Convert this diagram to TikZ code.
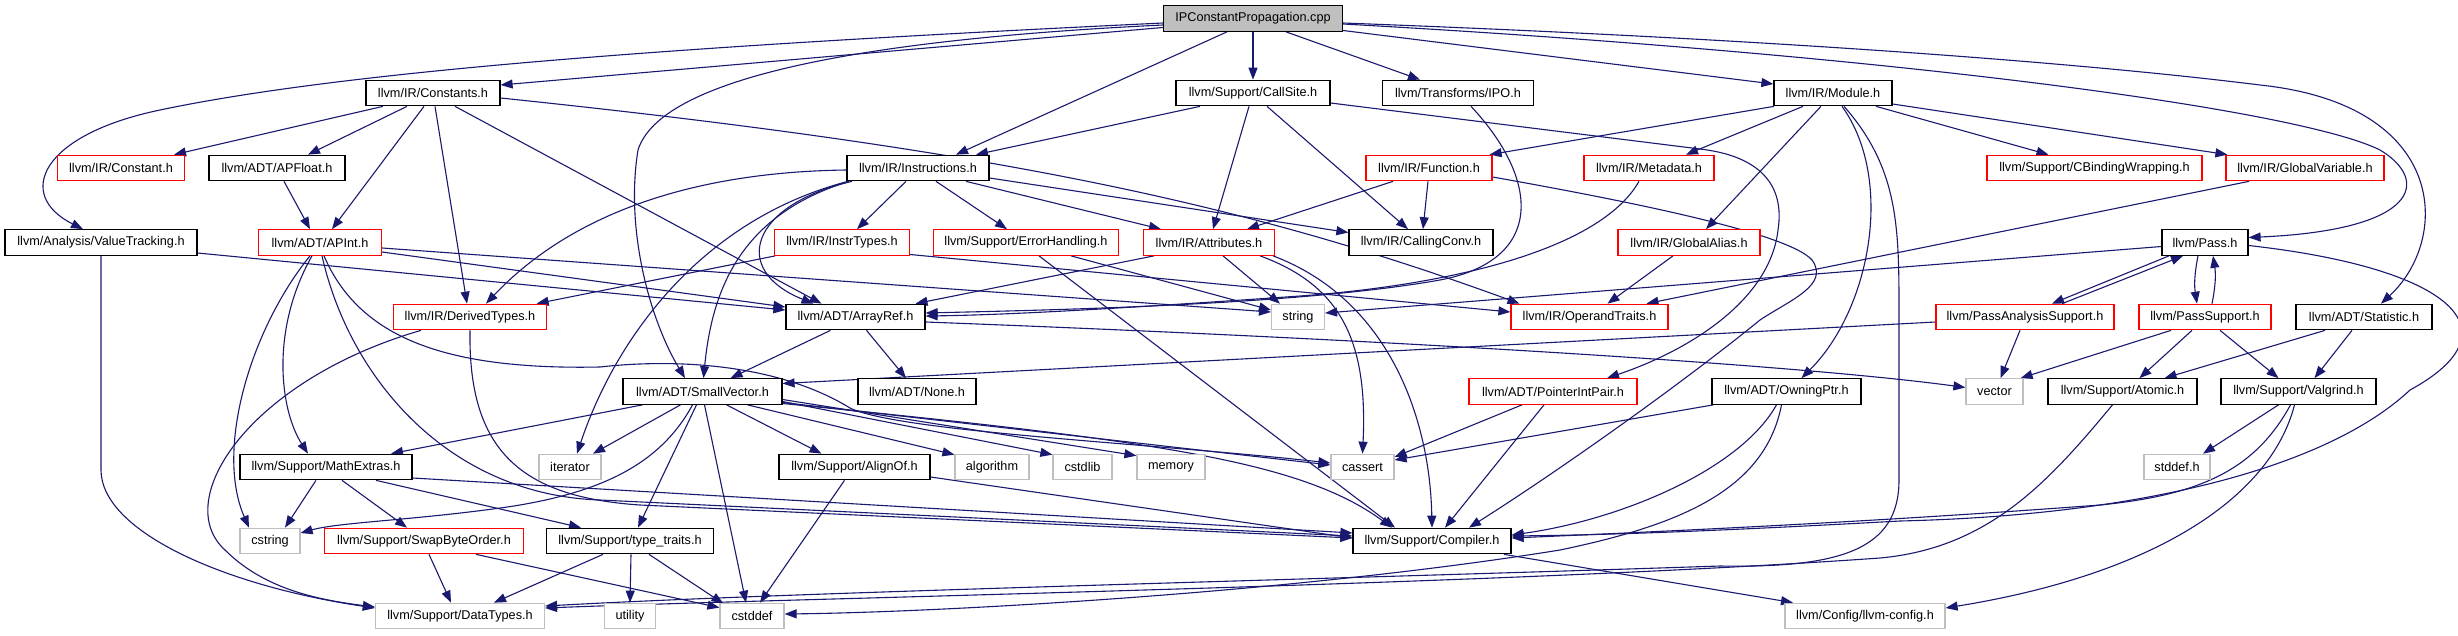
\documentclass[tikz,border=0pt]{standalone}
\usepackage{fontspec}
\setmainfont{Liberation Sans}
\usetikzlibrary{arrows.meta}
\definecolor{edgec}{HTML}{191970}
\definecolor{greyb}{HTML}{BFBFBF}
\definecolor{redb}{HTML}{FF0000}
\pgfdeclarelayer{bg}
\pgfdeclarelayer{edges}
\pgfsetlayers{bg,edges,main}
\begin{document}
\begin{tikzpicture}[x=1pt,y=-1pt,
  box/.style={draw=black, line width=1.2pt, fill=white, minimum height=25.5pt, inner sep=0pt, font=\fontsize{12.7pt}{15pt}\selectfont, text=black},
  nb/.style={box},
  nr/.style={box, draw=redb},
  ng/.style={box, draw=greyb},
  root/.style={box, fill=greyb},
  dep/.style={draw=edgec, line width=1.1pt, -{Triangle[length=12pt,width=9pt]}}
]
\begin{pgfonlayer}{bg}
\fill[white] (0,0) rectangle (2458,635);
\end{pgfonlayer}
\useasboundingbox (0,0) rectangle (2458,635);

% nodes
\node[root, minimum width=179pt] (ipcp) at (1253,18.5) {IPConstantPropagation.cpp};
\node[nb, minimum width=134pt] (constants) at (433,93) {llvm/IR/Constants.h};
\node[nb, minimum width=154pt] (callsite) at (1253,93) {llvm/Support/CallSite.h};
\node[nb, minimum width=151pt] (ipo) at (1458,93) {llvm/Transforms/IPO.h};
\node[nb, minimum width=118pt] (module) at (1833,93) {llvm/IR/Module.h};
\node[nr, minimum width=127pt] (constant) at (121,168) {llvm/IR/Constant.h};
\node[nb, minimum width=136pt] (apfloat) at (277,168) {llvm/ADT/APFloat.h};
\node[nb, minimum width=142pt] (instr) at (918,168) {llvm/IR/Instructions.h};
\node[nr, minimum width=126pt] (function) at (1429,168) {llvm/IR/Function.h};
\node[nr, minimum width=130pt] (metadata) at (1649,168) {llvm/IR/Metadata.h};
\node[nr, minimum width=215pt] (cbind) at (2094.5,168) {llvm/Support/CBindingWrapping.h};
\node[nr, minimum width=158pt] (globalvar) at (2305,168) {llvm/IR/GlobalVariable.h};
\node[nb, minimum width=192pt] (vt) at (101,242.5) {llvm/Analysis/ValueTracking.h};
\node[nr, minimum width=123pt] (apint) at (320,242.5) {llvm/ADT/APInt.h};
\node[nr, minimum width=135pt] (instrtypes) at (842,242.5) {llvm/IR/InstrTypes.h};
\node[nr, minimum width=185pt] (errh) at (1026,242.5) {llvm/Support/ErrorHandling.h};
\node[nr, minimum width=131pt] (attr) at (1209,242.5) {llvm/IR/Attributes.h};
\node[nb, minimum width=144pt] (callconv) at (1421,242.5) {llvm/IR/CallingConv.h};
\node[nr, minimum width=142pt] (galias) at (1689,242.5) {llvm/IR/GlobalAlias.h};
\node[nb, minimum width=86pt] (pass) at (2205,242.5) {llvm/Pass.h};
\node[nr, minimum width=153pt] (derived) at (470,317) {llvm/IR/DerivedTypes.h};
\node[nb, minimum width=139pt] (arrayref) at (855.5,317) {llvm/ADT/ArrayRef.h};
\node[ng, minimum width=53pt] (string) at (1298,317) {string};
\node[nr, minimum width=157pt] (optraits) at (1589.5,317) {llvm/IR/OperandTraits.h};
\node[nr, minimum width=178pt] (pas) at (2025,317) {llvm/PassAnalysisSupport.h};
\node[nr, minimum width=132pt] (ps) at (2205,317) {llvm/PassSupport.h};
\node[nb, minimum width=136pt] (stat) at (2364,317) {llvm/ADT/Statistic.h};
\node[nb, minimum width=159pt] (sv) at (702.5,391.5) {llvm/ADT/SmallVector.h};
\node[nb, minimum width=118pt] (none) at (917,391.5) {llvm/ADT/None.h};
\node[nr, minimum width=168pt] (pip) at (1553,391.5) {llvm/ADT/PointerIntPair.h};
\node[nb, minimum width=149pt] (owning) at (1786.5,391.5) {llvm/ADT/OwningPtr.h};
\node[ng, minimum width=57pt] (vector) at (1994.5,391.5) {vector};
\node[nb, minimum width=149pt] (atomic) at (2122.5,391.5) {llvm/Support/Atomic.h};
\node[nb, minimum width=155pt] (valgrind) at (2298.5,391.5) {llvm/Support/Valgrind.h};
\node[nb, minimum width=172pt] (mathx) at (326,467) {llvm/Support/MathExtras.h};
\node[ng, minimum width=62pt] (iterator) at (570,467) {iterator};
\node[nb, minimum width=151pt] (alignof) at (854.5,467) {llvm/Support/AlignOf.h};
\node[ng, minimum width=74pt] (algorithm) at (992,467) {algorithm};
\node[ng, minimum width=59pt] (cstdlib) at (1082.5,467) {cstdlib};
\node[ng, minimum width=68pt] (memory) at (1171,467) {memory};
\node[ng, minimum width=63pt] (cassert) at (1362.5,467) {cassert};
\node[ng, minimum width=66pt] (stddef) at (2177,467) {stddef.h};
\node[ng, minimum width=60pt] (cstring) at (270,541) {cstring};
\node[nr, minimum width=199pt] (sbo) at (424,541) {llvm/Support/SwapByteOrder.h};
\node[nb, minimum width=167pt] (ttraits) at (630,541) {llvm/Support/type\_traits.h};
\node[nb, minimum width=158pt] (compiler) at (1432,541) {llvm/Support/Compiler.h};
\node[ng, minimum width=169pt] (datatypes) at (460,616) {llvm/Support/DataTypes.h};
\node[ng, minimum width=51pt] (utility) at (630,616) {utility};
\node[ng, minimum width=64pt] (cstddef) at (752,616) {cstddef};
\node[ng, minimum width=160pt] (llvmcfg) at (1865,616) {llvm/Config/llvm-config.h};

\begin{pgfonlayer}{edges}
% IPConstantPropagation.cpp
\draw[dep] ([yshift=-9pt]ipcp.west) -- ([yshift=8pt]constants.east);
\draw[dep] ([yshift=-4.5pt]ipcp.west) .. controls (700,45) and (350,70) .. (160,110) .. controls (40,135) and (15,195) .. ([xshift=-18pt]vt.north);
\draw[dep] ([yshift=-6.5pt]ipcp.west) .. controls (850,40) and (660,80) .. (638,150) .. controls (625,230) and (650,320) .. ([xshift=-17.5pt]sv.north);
\draw[dep] ([xshift=-26pt]ipcp.south) -- ([xshift=38pt]instr.north);
\draw[dep] (ipcp.south) -- (callsite.north);
\draw[dep] ([xshift=33pt]ipcp.south) -- ([xshift=-38pt]ipo.north);
\draw[dep] ([yshift=-12pt]ipcp.east) -- ([yshift=9pt]module.west);
\draw[dep] ([yshift=-5.5pt]ipcp.east) .. controls (1900,55) and (2300,110) .. (2380,150) .. controls (2430,180) and (2420,230) .. ([yshift=5pt]pass.east);
\draw[dep] ([yshift=-4.5pt]ipcp.east) .. controls (1800,40) and (2100,65) .. (2260,85) .. controls (2450,105) and (2450,240) .. ([xshift=17pt]stat.north);

% Constants.h
\draw[dep] ([xshift=-50pt]constants.south) -- ([xshift=53pt]constant.north);
\draw[dep] ([xshift=-26pt]constants.south) -- ([xshift=31pt]apfloat.north);
\draw[dep] ([xshift=-9pt]constants.south) -- ([xshift=12pt]apint.north);
\draw[dep] ([xshift=2pt]constants.south) -- ([xshift=-3pt]derived.north);
\draw[dep] ([xshift=22pt]constants.south) -- ([xshift=-34pt]arrayref.north);
\draw[dep] ([yshift=-5pt]constants.east) .. controls (1000,150) and (1250,205) .. ([xshift=-70pt]optraits.north);

% ValueTracking.h
\draw[dep] ([yshift=-10.5pt]vt.east) -- ([yshift=7pt]arrayref.west);
\draw[dep] (vt.south) -- (101,470) .. controls (101,530) and (220,585) .. ([yshift=8pt]datatypes.west);

% APFloat.h
\draw[dep] ([xshift=7pt]apfloat.south) -- ([xshift=-10pt]apint.north);

% APInt.h
\draw[dep] ([yshift=-9.5pt]apint.east) -- ([yshift=10pt]arrayref.west);
\draw[dep] ([yshift=-5.5pt]apint.east) -- ([yshift=5pt]string.west);
\draw[dep] ([xshift=-10pt]apint.south) .. controls (250,330) and (215,450) .. ([xshift=-21pt]cstring.north);
\draw[dep] ([xshift=-8pt]apint.south) .. controls (270,330) and (280,410) .. ([xshift=-18pt]mathx.north);
\draw[dep] ([xshift=2pt]apint.south) .. controls (350,380) and (450,495) .. (600,500) -- ([yshift=5pt]compiler.west);
\draw[dep] ([xshift=4pt]apint.south) .. controls (360,340) and (450,370) .. (600,367) .. controls (680,358) and (780,365) .. (850,408) .. controls (900,432) and (1150,443) .. ([yshift=4pt]cassert.west);

% DerivedTypes.h
\draw[dep] ([xshift=-49pt]derived.south) .. controls (250,380) and (170,500) .. (225,550) .. controls (265,590) and (320,600) .. ([yshift=9pt]datatypes.west);
\draw[dep] (derived.south) .. controls (468,450) and (520,497) .. (640,505) -- ([yshift=3pt]compiler.west);

% InstrTypes.h
\draw[dep] (instrtypes) -- (derived);
\draw[dep] ([yshift=-12pt]instrtypes.east) -- ([yshift=5pt]optraits.west);

% ErrorHandling.h
\draw[dep] ([xshift=13pt]errh.south) -- ([xshift=-37pt]compiler.north);
\draw[dep] ([xshift=45pt]errh.south) -- ([yshift=7pt]string.west);

% Attributes.h
\draw[dep] ([xshift=-55pt]attr.south) -- ([xshift=60pt]arrayref.north);
\draw[dep] ([xshift=14pt]attr.south) -- ([xshift=-18pt]string.north);
\draw[dep] ([xshift=51pt]attr.south) .. controls (1340,285) and (1368,340) .. (cassert.north);
\draw[dep] ([xshift=64pt]attr.south) .. controls (1390,300) and (1430,420) .. (compiler.north);

% CallSite.h
\draw[dep] ([xshift=-53pt]callsite.south) -- ([xshift=58pt]instr.north);
\draw[dep] ([xshift=-4pt]callsite.south) -- ([xshift=4pt]attr.north);
\draw[dep] ([xshift=14pt]callsite.south) -- ([xshift=-13pt]callconv.north);
\draw[dep] ([yshift=-10pt]callsite.east) -- (1700,149) .. controls (1760,156) and (1785,185) .. (1778,230) .. controls (1770,300) and (1690,350) .. ([xshift=54pt]pip.north);

% Transforms/IPO.h
\draw[dep] ([xshift=13pt]ipo.south) .. controls (1540,180) and (1545,260) .. (1440,280) .. controls (1300,305) and (1050,310) .. ([yshift=4pt]arrayref.east);

% Module.h
\draw[dep] ([xshift=-59pt]module.south) -- ([xshift=-3pt]function.north east);
\draw[dep] ([xshift=-30pt]module.south) -- ([xshift=37pt]metadata.north);
\draw[dep] ([xshift=-12pt]module.south) -- ([xshift=17pt]galias.north);
\draw[dep] ([xshift=43pt]module.south) -- ([xshift=-46pt]cbind.north);
\draw[dep] ([yshift=-11pt]module.east) -- ([xshift=2pt]globalvar.north west);
\draw[dep] ([xshift=9pt]module.south) .. controls (1895,180) and (1870,310) .. ([xshift=15pt]owning.north);
\draw[dep] ([xshift=11pt]module.south) .. controls (1900,170) and (1899,230) .. (1899,320) -- (1899,480) .. controls (1899,550) and (1840,568) .. (1720,566) .. controls (1300,580) and (800,592) .. ([yshift=10pt]datatypes.east);

% Function.h
\draw[dep] ([xshift=-36pt]function.south) -- ([xshift=38pt]attr.north);
\draw[dep] ([xshift=-1pt]function.south) -- ([xshift=2pt]callconv.north);
\draw[dep] ([yshift=-9pt]function.east) .. controls (1650,205) and (1790,235) .. (1812,260) .. controls (1830,285) and (1790,300) .. (1760,320) .. controls (1680,385) and (1560,470) .. ([xshift=37pt]compiler.north);

% Metadata.h, GlobalAlias.h, GlobalVariable.h
\draw[dep] ([xshift=-10pt]metadata.south) .. controls (1600,250) and (1450,285) .. (1300,296) .. controls (1100,310) and (1000,315) .. ([yshift=1pt]arrayref.east);
\draw[dep] ([xshift=-16pt]galias.south) -- ([xshift=18pt]optraits.north);
\draw[dep] ([xshift=-56pt]globalvar.south) -- ([xshift=57pt]optraits.north);

% Pass.h
\draw[dep] ([yshift=-4pt]pass.west) -- ([yshift=4pt]string.east);
\draw[dep] ([xshift=-36pt]pass.south) -- ([xshift=27pt]pas.north);
\draw[dep] ([xshift=37pt]pas.north) -- ([xshift=-22pt]pass.south);
\draw[dep] ([xshift=-7pt]pass.south) to[bend right=10] ([xshift=-8pt]ps.north);
\draw[dep] ([xshift=7pt]ps.north) to[bend right=10] ([xshift=8pt]pass.south);
\draw[dep] ([yshift=-3pt]pass.east) .. controls (2450,268) and (2520,330) .. (2410,390) .. controls (2330,465) and (2150,515) .. (1900,521) .. controls (1700,532) and (1600,535) .. ([yshift=5pt]compiler.east);

% PassAnalysisSupport.h, PassSupport.h, Statistic.h
\draw[dep] ([xshift=-5pt]pas.south) -- ([xshift=6pt]vector.north);
\draw[dep] ([yshift=-5pt]pas.west) -- ([yshift=8pt]sv.east);
\draw[dep] ([xshift=-34pt]ps.south) -- ([xshift=-3pt]vector.north east);
\draw[dep] ([xshift=-13pt]ps.south) -- ([xshift=17pt]atomic.north);
\draw[dep] ([xshift=15pt]ps.south) -- ([xshift=-20pt]valgrind.north);
\draw[dep] ([xshift=-39pt]stat.south) -- ([xshift=42pt]atomic.north);
\draw[dep] ([xshift=-12pt]stat.south) -- ([xshift=16pt]valgrind.north);

% ArrayRef.h
\draw[dep] ([xshift=-25pt]arrayref.south) -- ([xshift=28pt]sv.north);
\draw[dep] ([xshift=11pt]arrayref.south) -- ([xshift=-11pt]none.north);
\draw[dep] ([yshift=-5pt]arrayref.east) .. controls (1400,340) and (1800,365) .. ([yshift=4pt]vector.west);

% SmallVector.h
\draw[dep] ([xshift=-60pt]sv.south) -- ([xshift=65pt]mathx.north);
\draw[dep] ([xshift=-22pt]sv.south) -- ([xshift=23pt]iterator.north);
\draw[dep] ([xshift=-10pt]sv.south) .. controls (660,465) and (600,492) .. (514,506) .. controls (420,520) and (340,522) .. ([yshift=8pt]cstring.east);
\draw[dep] ([xshift=-6pt]sv.south) -- ([xshift=8pt]ttraits.north);
\draw[dep] ([xshift=2pt]sv.south) -- ([xshift=-6pt]cstddef.north);
\draw[dep] ([xshift=24pt]sv.south) -- ([xshift=-33pt]alignof.north);
\draw[dep] ([xshift=45pt]sv.south) -- ([yshift=-1pt]algorithm.north west);
\draw[dep] ([yshift=-10pt]sv.east) -- ([yshift=-1pt]cstdlib.north west);
\draw[dep] ([yshift=-8pt]sv.east) -- ([yshift=-2pt]memory.north west);
\draw[dep] ([yshift=-11pt]sv.east) -- ([yshift=2pt]cassert.west);
\draw[dep] ([yshift=-12pt]sv.east) .. controls (1150,440) and (1300,460) .. ([xshift=-40pt]compiler.north);

% MathExtras.h
\draw[dep] ([xshift=-10pt]mathx.south) -- ([xshift=15pt]cstring.north);
\draw[dep] ([xshift=16pt]mathx.south) -- ([xshift=-17pt]sbo.north);
\draw[dep] ([xshift=50pt]mathx.south) -- ([xshift=-49pt]ttraits.north);
\draw[dep] ([yshift=-11pt]mathx.east) -- ([yshift=8pt]compiler.west);

% SwapByteOrder.h, type_traits.h, AlignOf.h
\draw[dep] ([xshift=5pt]sbo.south) -- ([xshift=-9pt]datatypes.north);
\draw[dep] ([xshift=52pt]sbo.south) -- ([yshift=-5pt]cstddef.north west);
\draw[dep] ([xshift=1pt]ttraits.south) -- (utility.north);
\draw[dep] ([xshift=19pt]ttraits.south) -- ([xshift=4pt,yshift=-1pt]cstddef.north west);
\draw[dep] ([xshift=-27pt]ttraits.south) -- ([xshift=34pt]datatypes.north);
\draw[dep] ([xshift=-10pt]alignof.south) -- ([xshift=8pt]cstddef.north);
\draw[dep] ([yshift=-10pt]alignof.east) -- ([yshift=3pt]compiler.west);

% PointerIntPair.h, OwningPtr.h
\draw[dep] ([xshift=-31pt]pip.south) -- ([yshift=10pt]cassert.east);
\draw[dep] ([xshift=-9pt]pip.south) -- ([xshift=13pt]compiler.north);
\draw[dep] ([xshift=2pt]owning.south west) -- ([yshift=7pt]cassert.east);
\draw[dep] ([xshift=-10pt]owning.south) .. controls (1740,470) and (1620,520) .. ([yshift=6pt]compiler.east);
\draw[dep] ([xshift=-5pt]owning.south) .. controls (1765,490) and (1680,525) .. (1560,550) .. controls (1300,592) and (950,612) .. ([yshift=2pt]cstddef.east);

% Atomic.h, Compiler.h, Valgrind.h
\draw[dep] ([xshift=-10pt]atomic.south) .. controls (2050,480) and (1990,548) .. (1880,558) .. controls (1500,585) and (800,598) .. ([yshift=8pt]datatypes.east);
\draw[dep] ([xshift=72pt]compiler.south) -- ([xshift=-72pt]llvmcfg.north);
\draw[dep] ([xshift=-20pt]valgrind.south) -- ([xshift=26pt]stddef.north);
\draw[dep] ([xshift=-8pt]valgrind.south) .. controls (2255,470) and (2200,495) .. (2100,505) .. controls (1900,520) and (1700,530) .. ([yshift=3pt]compiler.east);
\draw[dep] ([xshift=-4pt]valgrind.south) .. controls (2270,500) and (2150,575) .. ([yshift=8pt]llvmcfg.east);

% Instructions.h
\draw[dep] ([xshift=-12pt]instr.south) -- ([xshift=15pt]instrtypes.north);
\draw[dep] ([xshift=18pt]instr.south) -- ([xshift=-19pt]errh.north);
\draw[dep] ([xshift=48pt]instr.south) -- ([xshift=-48pt]attr.north);
\draw[dep] ([yshift=-10pt]instr.east) -- ([yshift=10pt]callconv.west);
\draw[dep] ([xshift=-66pt]instr.south) .. controls (750,205) and (730,270) .. ([xshift=-42pt]arrayref.north);
\draw[dep] ([xshift=-69pt]instr.south) .. controls (740,215) and (712,290) .. ([xshift=1pt]sv.north);
\draw[dep] ([yshift=-2pt]instr.west) .. controls (690,172) and (570,215) .. ([xshift=16pt]derived.north);
\draw[dep] ([xshift=-70pt]instr.south) .. controls (700,220) and (615,340) .. ([xshift=7pt]iterator.north);
\end{pgfonlayer}
\end{tikzpicture}
\end{document}
